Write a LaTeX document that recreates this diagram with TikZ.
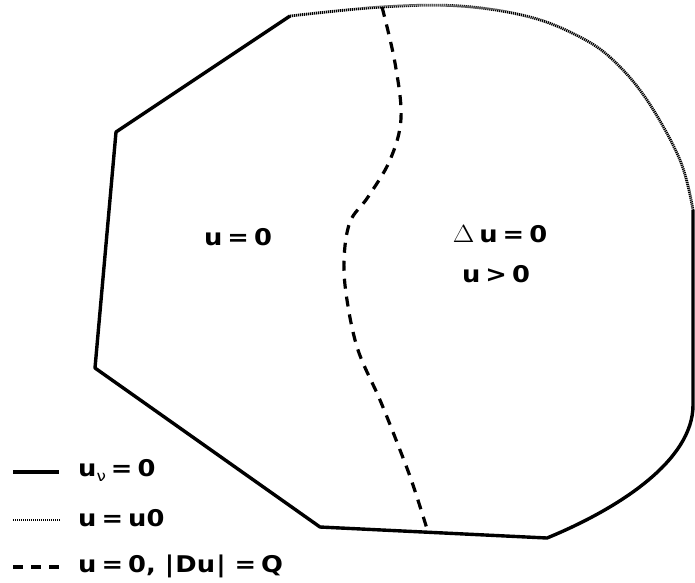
\documentclass[tikz,border=0pt]{standalone}
\usepackage[no-math]{fontspec}
\setmainfont{DejaVu Sans}
\usepackage{graphicx}
\usepackage{tikz}
\usetikzlibrary{calc}

\newcommand{\wide}[1]{\scalebox{1.12}[1]{#1}}
\newcommand{\tightsp}{\spaceskip 4.5pt\relax}

\begin{document}
\begin{tikzpicture}[x=1pt,y=-1pt,
  wall/.style={line width=3.4pt,line join=round},
  fixed/.style={line width=2.8pt,dash pattern=on 1.2pt off 0.8pt},
  free/.style={line width=3.2pt,dash pattern=on 10pt off 8pt},
  lbl/.style={font=\fontsize{23}{27}\selectfont\bfseries\tightsp,inner sep=0pt}]
\useasboundingbox (0,0) rectangle (695,582);
% corners of the domain
\coordinate (top) at (290,16);
\coordinate (left) at (116,132);
\coordinate (low) at (95,368);
\coordinate (foot) at (320,527);
\coordinate (tip) at (547,538);
\coordinate (side) at (693,405);
\coordinate (east) at (693,210);
% boundary
\draw[wall] (top) -- (left) -- (low) -- (foot) -- (tip)
  .. controls (620,508) and (693,460) .. (side) -- (east);
\draw[fixed] plot[smooth,tension=0.6] coordinates {(top) (382,7) (460,6) (530,17) (580,37) (613,60) (647,100) (680,160) (east)};
% free boundary
\draw[free] plot[smooth,tension=0.6] coordinates {(382,7) (395,63) (401,118) (390,160) (368,197) (350,222) (344,260) (347,300) (358,350) (380,400) (400,450) (413,485) (428,532)};
% regions
\node[lbl] (dead) at (238,237) {\wide{u = 0}};
\node[lbl] (harm) at (500,234) {\wide{$\Delta$ u = 0}};
\node[lbl] (pos) at (496,274) {\wide{u > 0}};
% legend
\coordinate (s1) at (13,472); \coordinate (s2) at (59,472);
\coordinate (d1) at (13,520); \coordinate (d2) at (60,520);
\coordinate (f1) at (13,567); \coordinate (f2) at (60,567);
\draw[wall] (s1) -- (s2);
\draw[fixed,line width=2pt] (d1) -- (d2);
\draw[free] (f1) -- (f2);
\node[lbl,anchor=west] (keyA) at (78,470) {\wide{u\raisebox{-5pt}{\fontsize{15}{15}\mdseries ν} = 0}};
\node[lbl,anchor=west] (keyB) at (78,518) {\wide{u = u0}};
\node[lbl,anchor=west] (keyC) at (78,566) {\wide{u = 0,\hspace{8pt}|\hspace{1pt}Du\hspace{1pt}|\hspace{8pt}= Q}};
\end{tikzpicture}
\end{document}
